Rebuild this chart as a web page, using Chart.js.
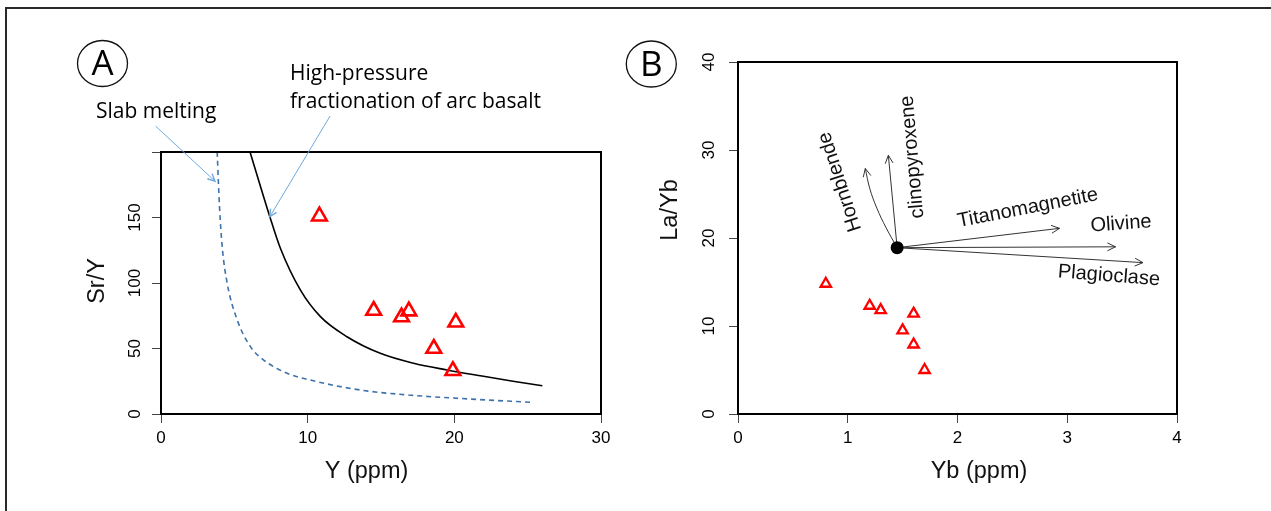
<!DOCTYPE html>
<html>
<head>
<meta charset="utf-8">
<title>Sr/Y and La/Yb diagrams</title>
<script src="https://cdn.jsdelivr.net/npm/chart.js@4.4.1/dist/chart.umd.min.js"></script>
<style>
  html, body { margin: 0; padding: 0; background: #fff; }
  #page { position: relative; width: 1271px; height: 511px; overflow: hidden; }
  #frame { position: absolute; left: 5px; top: 7px; width: 1400px; height: 600px;
           border-top: 2px solid #2a2a2a; border-left: 2px solid #2a2a2a; }
  canvas { position: absolute; top: 0; }
  #chartA { left: 0; }
  #chartB { left: 620px; }
</style>
</head>
<body>
<div id="page">
  <div id="frame"></div>
  <canvas id="chartA" width="620" height="511"></canvas>
  <canvas id="chartB" width="651" height="511"></canvas>
</div>
<script>
// ---- Panel A : Sr/Y vs Y ----
const sampleY = [10.8, 14.5, 16.4, 16.9, 20.1, 18.6, 19.9];
const sampleSrY = [151, 79, 74, 78.5, 70, 50, 33];

// high-pressure fractionation of arc basalt (solid)
const hpCurveY = [6.07, 7.42, 8.14, 9.5, 10.87, 12.68, 14.95, 17.22, 19.5, 21.76, 24.0, 26.0];
const hpCurveSrY = [200, 150.6, 126.5, 94.7, 74.3, 59.0, 46.3, 38.7, 33.6, 29.2, 25.0, 21.6];

// slab melting (dashed)
const slabCurveY = [3.83, 3.99, 4.17, 4.51, 5.19, 6.1, 7.0, 8.6, 10.64, 13.59, 16.87, 20.5, 25.2];
const slabCurveSrY = [200, 158, 128, 100, 72, 51.4, 41.2, 31.1, 24.7, 18.3, 14.5, 11.8, 8.9];

const ticksAx = [0, 10, 20, 30];
const labelsAx = ['0', '10', '20', '30'];
const ticksAy = [0, 50, 100, 150, 200];
const labelsAy = ['0', '50', '100', '150', ''];

// ---- Panel B : La/Yb vs Yb ----
const sampleYb = [0.8, 1.2, 1.3, 1.6, 1.5, 1.6, 1.7];
const sampleLaYb = [14.8, 12.3, 11.8, 11.4, 9.5, 7.9, 5.0];

const startYb = [1.45];
const startLaYb = [18.9];

// fractionation vectors (straight ones go from the start point to the end)
const vectorNames = ['clinopyroxene', 'Titanomagnetite', 'Olivine', 'Plagioclase'];
const vectorEndYb = [1.37, 2.93, 3.44, 3.69];
const vectorEndLaYb = [29.4, 21.1, 19.0, 17.2];

// hornblende vector bends to the left
const hornblendeYb = [1.45, 1.35, 1.265, 1.2, 1.16];
const hornblendeLaYb = [18.9, 21.15, 23.4, 25.65, 27.9];

const ticksBx = [0, 1, 2, 3, 4];
const labelsBx = ['0', '1', '2', '3', '4'];
const ticksBy = [0, 10, 20, 30, 40];
const labelsBy = ['0', '10', '20', '30', '40'];

// ---- helpers ----
const pts = (xs, ys) => xs.map((x, i) => ({ x, y: ys[i] }));
const arial = "'Liberation Sans', Arial, sans-serif";
const calib = "'Open Sans', sans-serif";
const red = '#ff0000';

function axis(min, max, values, labels, vertical, size, pad) {
  return {
    type: 'linear',
    min, max,
    afterBuildTicks: (s) => { s.ticks = values.map((v) => ({ value: v })); },
    afterFit: (s) => { if (vertical) s.width = size; else s.height = size; },
    grid: { drawOnChartArea: false, drawTicks: true, tickLength: 9, color: '#444', lineWidth: 1 },
    border: { display: false },
    ticks: {
      autoSkip: false,
      padding: pad,
      color: '#000',
      font: { family: arial, size: 17 },
      minRotation: vertical ? 90 : 0,
      maxRotation: vertical ? 90 : 0,
      crossAlign: vertical ? 'center' : 'near',
      callback: (v, i) => labels[i],
    },
  };
}

function drawText(ctx, text, x, y, o) {
  ctx.save();
  ctx.translate(x, y);
  if (o.rotate) ctx.rotate(o.rotate * Math.PI / 180);
  ctx.font = o.font;
  ctx.fillStyle = o.color || '#111';
  ctx.textAlign = o.align || 'center';
  ctx.textBaseline = o.baseline || 'middle';
  ctx.fillText(text, 0, 0);
  ctx.restore();
}

function arrowHead(ctx, x0, y0, x1, y1, len) {
  const a = Math.atan2(y1 - y0, x1 - x0);
  const w = Math.PI / 7;
  ctx.beginPath();
  ctx.moveTo(x1 - len * Math.cos(a - w), y1 - len * Math.sin(a - w));
  ctx.lineTo(x1, y1);
  ctx.lineTo(x1 - len * Math.cos(a + w), y1 - len * Math.sin(a + w));
  ctx.stroke();
}

function badge(ctx, letter, cx, cy) {
  ctx.save();
  ctx.beginPath();
  ctx.ellipse(cx, cy, 25, 23, 0, 0, Math.PI * 2);
  ctx.lineWidth = 1.3;
  ctx.strokeStyle = '#111';
  ctx.stroke();
  ctx.restore();
  drawText(ctx, letter, cx, cy + 2, { font: `35px ${calib}`, color: '#000' });
}

// black frame around the plotting region
const boxPlugin = {
  id: 'box',
  afterDraw(chart) {
    const { ctx, chartArea: a } = chart;
    ctx.save();
    ctx.lineWidth = 2;
    ctx.strokeStyle = '#000';
    ctx.strokeRect(a.left, a.top, a.right - a.left, a.bottom - a.top);
    ctx.restore();
  },
};

const titleFont = `23.5px ${arial}`;
const noteFont = `21px ${calib}`;

// ---- Panel A ----
const pointersA = [
  { from: [-0.37, 219.8], to: [3.68, 177.8] },
  { from: [11.53, 227.5], to: [7.42, 150.6] },
];

const decorA = {
  id: 'decorA',
  afterDraw(chart) {
    const { ctx } = chart;
    const sx = chart.scales.x;
    const sy = chart.scales.y;
    badge(ctx, 'A', 102.5, 63.5);

    drawText(ctx, 'Slab melting', 96, 118, { font: noteFont, align: 'left', baseline: 'alphabetic', color: '#000' });
    drawText(ctx, 'High-pressure', 290, 80, { font: noteFont, align: 'left', baseline: 'alphabetic', color: '#000' });
    drawText(ctx, 'fractionation of arc basalt', 290, 108, { font: noteFont, align: 'left', baseline: 'alphabetic', color: '#000' });

    ctx.save();
    ctx.strokeStyle = '#6fa8dc';
    pointersA.forEach((p) => {
      const x0 = sx.getPixelForValue(p.from[0]);
      const y0 = sy.getPixelForValue(p.from[1]);
      const x1 = sx.getPixelForValue(p.to[0]);
      const y1 = sy.getPixelForValue(p.to[1]);
      ctx.lineWidth = 1;
      ctx.beginPath();
      ctx.moveTo(x0, y0);
      ctx.lineTo(x1, y1);
      ctx.stroke();
      ctx.lineWidth = 1.4;
      arrowHead(ctx, x0, y0, x1, y1, 8);
    });
    ctx.restore();

    drawText(ctx, 'Sr/Y', 97.5, 281, { font: titleFont, rotate: -90 });
    drawText(ctx, 'Y (ppm)', 366.5, 472, { font: titleFont });
  },
};

new Chart(document.getElementById('chartA'), {
  type: 'scatter',
  data: {
    datasets: [
      {
        label: 'samples',
        data: pts(sampleY, sampleSrY),
        pointStyle: 'triangle',
        pointRadius: 8.5,
        borderColor: red,
        backgroundColor: 'rgba(0,0,0,0)',
        borderWidth: 2.6,
      },
      {
        label: 'High-pressure fractionation of arc basalt',
        data: pts(hpCurveY, hpCurveSrY),
        showLine: true,
        pointRadius: 0,
        borderColor: '#000',
        borderWidth: 1.6,
        cubicInterpolationMode: 'monotone',
      },
      {
        label: 'Slab melting',
        data: pts(slabCurveY, slabCurveSrY),
        showLine: true,
        pointRadius: 0,
        borderColor: '#3f72aa',
        borderWidth: 1.6,
        borderDash: [5, 4],
        cubicInterpolationMode: 'monotone',
      },
    ],
  },
  options: {
    responsive: false,
    animation: false,
    devicePixelRatio: 1,
    layout: { padding: { left: 101, right: 19, top: 152, bottom: 37 } },
    plugins: { legend: { display: false }, tooltip: { enabled: false } },
    scales: {
      x: axis(0, 30, ticksAx, labelsAx, false, 60, 5),
      y: axis(0, 200, ticksAy, labelsAy, true, 60, 2.6),
    },
  },
  plugins: [boxPlugin, decorA],
});

// ---- Panel B ----
const vectorLabels = [
  { text: 'Hornblende', at: [0.93, 26.4], rotate: -108 },
  { text: 'clinopyroxene', at: [1.59, 29.2], rotate: -95 },
  { text: 'Titanomagnetite', at: [2.64, 23.4], rotate: -11 },
  { text: 'Olivine', at: [3.49, 21.6], rotate: -4 },
  { text: 'Plagioclase', at: [3.38, 15.7], rotate: 4.5 },
];

const vectorSets = vectorNames.map((name, i) => ({
  label: name,
  data: pts([startYb[0], vectorEndYb[i]], [startLaYb[0], vectorEndLaYb[i]]),
  showLine: true,
  pointRadius: 0,
  borderColor: '#333',
  borderWidth: 1,
  arrow: true,
}));

const decorB = {
  id: 'decorB',
  afterDatasetsDraw(chart) {
    const { ctx } = chart;
    ctx.save();
    ctx.strokeStyle = '#333';
    ctx.lineWidth = 1;
    chart.data.datasets.forEach((ds, i) => {
      if (!ds.arrow) return;
      const els = chart.getDatasetMeta(i).data;
      const last = els[els.length - 1];
      const prev = els[els.length - 2];
      let px = prev.x;
      let py = prev.y;
      if (last.cp1x !== undefined && (last.cp1x !== last.x || last.cp1y !== last.y)) {
        px = last.cp1x;
        py = last.cp1y;
      }
      arrowHead(ctx, px, py, last.x, last.y, 9);
    });
    ctx.restore();
  },
  afterDraw(chart) {
    const { ctx } = chart;
    const sx = chart.scales.x;
    const sy = chart.scales.y;
    badge(ctx, 'B', 31.3, 64);
    vectorLabels.forEach((l) => {
      drawText(ctx, l.text, sx.getPixelForValue(l.at[0]), sy.getPixelForValue(l.at[1]),
        { font: `20px ${arial}`, rotate: l.rotate });
    });
    drawText(ctx, 'La/Yb', 51, 210, { font: titleFont, rotate: -90 });
    drawText(ctx, 'Yb (ppm)', 359, 471.5, { font: titleFont });
  },
};

new Chart(document.getElementById('chartB'), {
  type: 'scatter',
  data: {
    datasets: [
      {
        label: 'starting composition',
        data: pts(startYb, startLaYb),
        pointStyle: 'circle',
        pointRadius: 6.5,
        backgroundColor: '#000',
        borderColor: '#000',
        borderWidth: 0,
      },
      {
        label: 'samples',
        data: pts(sampleYb, sampleLaYb),
        pointStyle: 'triangle',
        pointRadius: 6,
        borderColor: red,
        backgroundColor: 'rgba(0,0,0,0)',
        borderWidth: 2.3,
      },
      {
        label: 'Hornblende',
        data: pts(hornblendeYb, hornblendeLaYb),
        showLine: true,
        pointRadius: 0,
        borderColor: '#333',
        borderWidth: 1,
        tension: 0.4,
        arrow: true,
      },
      ...vectorSets,
    ],
  },
  options: {
    responsive: false,
    animation: false,
    devicePixelRatio: 1,
    layout: { padding: { left: 58, right: 94, top: 62, bottom: 37 } },
    plugins: { legend: { display: false }, tooltip: { enabled: false } },
    scales: {
      x: axis(0, 4, ticksBx, labelsBx, false, 60, 5),
      y: axis(0, 40, ticksBy, labelsBy, true, 60, 10.5),
    },
  },
  plugins: [boxPlugin, decorB],
});
</script>
</body>
</html>
